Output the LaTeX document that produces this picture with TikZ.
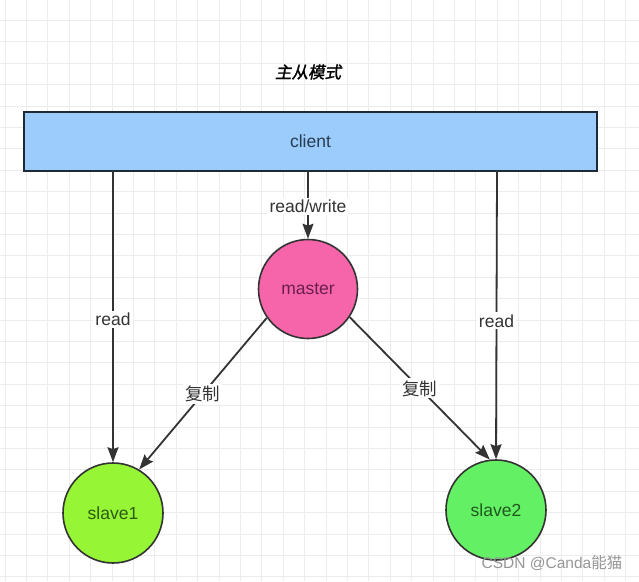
\documentclass[tikz,border=0pt]{standalone}
\usepackage{fontspec}
\setmainfont{Liberation Sans}
\newfontfamily\cjk{Noto Sans CJK SC}
\newfontfamily\cjktitle{Noto Sans CJK SC}[FakeSlant=0.2,FakeBold=1.5]
\usetikzlibrary{arrows.meta}
\definecolor{gridc}{RGB}{236,236,236}
\definecolor{linec}{RGB}{51,51,51}
\definecolor{clientfill}{RGB}{155,204,252}
\definecolor{clientdraw}{RGB}{30,42,54}
\definecolor{clienttext}{RGB}{40,60,82}
\definecolor{masterfill}{RGB}{246,100,170}
\definecolor{mastertext}{RGB}{105,30,80}
\definecolor{s1fill}{RGB}{150,245,52}
\definecolor{s1text}{RGB}{45,90,18}
\definecolor{s2fill}{RGB}{100,240,100}
\definecolor{s2text}{RGB}{30,88,30}
\definecolor{markc}{RGB}{150,150,150}
\begin{document}
\begin{tikzpicture}[x=1pt,y=-1pt,
  every node/.style={font=\fontsize{17.5}{20}\selectfont},
  ball/.style={circle,draw=linec,line width=1.6pt,minimum size=100pt,inner sep=0pt},
  conn/.style={draw=linec,line width=1.8pt,-{Stealth[length=15pt,width=11pt,inset=2pt]}},
  lbl/.style={fill=white,inner sep=2pt,text=linec}]
\useasboundingbox (0,0) rectangle (639,581);
\fill[white] (0,0) rectangle (639,581);
% grid
\foreach \i in {0,...,29} {\draw[gridc,line width=1pt] ({5+21.4*\i},0) -- ({5+21.4*\i},581);}
\foreach \j in {0,...,27} {\draw[gridc,line width=1pt] (0,{-0.9+21.4*\j}) -- (639,{-0.9+21.4*\j});}
% title
\node (title) at (308,72) {\fontsize{16.5}{18}\selectfont\cjktitle 主从模式};
% client
\node[draw=clientdraw,line width=1.6pt,fill=clientfill,minimum width=573pt,minimum height=59pt,inner sep=0pt,text=clienttext] (client) at (310.5,141.5) {client};
% circles
\node[ball,fill=masterfill,minimum size=99pt,text=mastertext] (master) at (308,289) {master};
\node[ball,fill=s1fill,text=s1text] (slave1) at (113,513) {slave1};
\node[ball,fill=s2fill,text=s2text] (slave2) at (496,510) {slave2};
% connector start points on client
\coordinate (c1) at (113,171);
\coordinate (c2) at (308,171);
\coordinate (c3) at (497,171);
\draw[conn] (c1) -- node[lbl,pos=0.51] {read} (slave1.north);
\draw[conn] (c2) -- node[lbl,pos=0.52] {read/write} (master.north);
\draw[conn] (c3) -- node[lbl,pos=0.52] {read} (slave2.north);
\draw[conn] (master.-145.4) -- node[lbl,pos=0.5] {\cjk 复制} (slave1.59.6);
\draw[conn] (master.-34.6) -- node[lbl,pos=0.5] {\cjk 复制} (slave2.97);
% watermark
\node[text=markc,inner sep=0pt] (mark) at (552,563) {\fontsize{15.5}{17}\selectfont CSDN @Canda{\cjk 能猫}};
\end{tikzpicture}
\end{document}
